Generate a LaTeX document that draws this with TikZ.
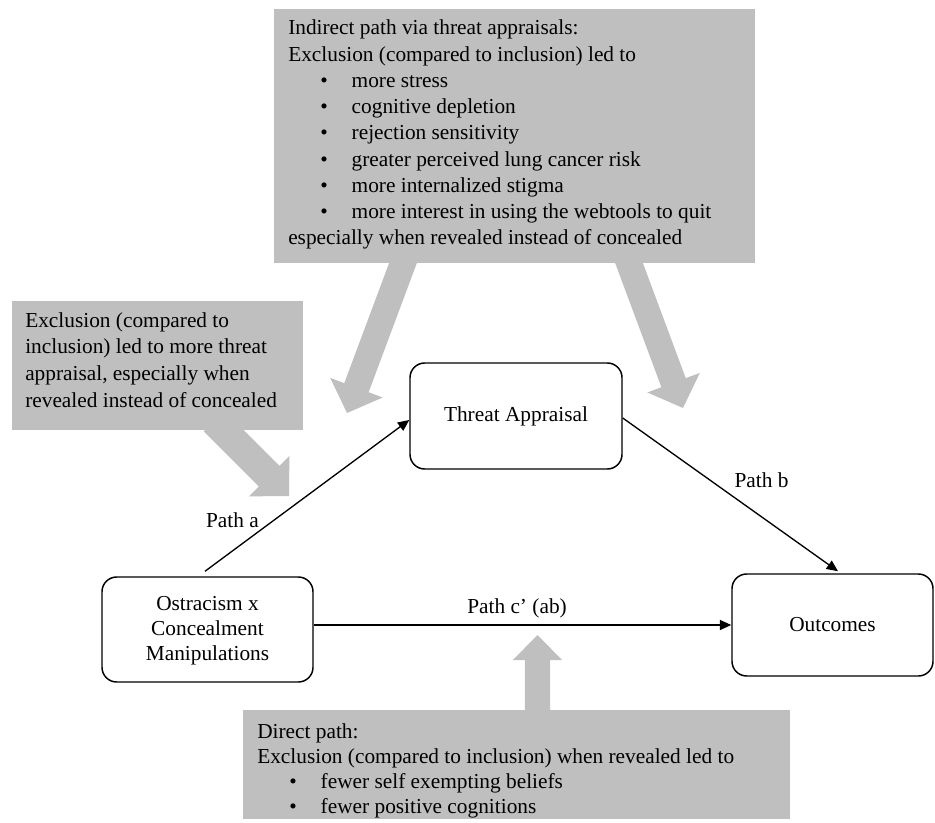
\documentclass[tikz,border=0pt]{standalone}
\usepackage{fontspec}
\setmainfont{Liberation Serif}
\usetikzlibrary{calc,arrows.meta}
\definecolor{callgray}{RGB}{191,191,191}
% block arrow: #1 start coordinate, #2 tip coordinate, #3 half shaft width, #4 half head width, #5 head length
\newcommand\blockarrow[5]{%
  \coordinate (#2b) at ($(#2)!#5!(#1)$);
  \fill[callgray] ($(#1)!#3!90:(#2)$) -- ($(#2b)!#3!90:(#2)$) -- ($(#2b)!#4!90:(#2)$) -- (#2)
    -- ($(#2b)!#4!-90:(#2)$) -- ($(#2b)!#3!-90:(#2)$) -- ($(#1)!#3!-90:(#2)$) -- cycle;}
\newcommand\blt[1]{\hspace*{24pt}\makebox[23.6pt][l]{•}#1}
\begin{document}
\begin{tikzpicture}[x=0.75pt,y=-0.75pt,
  every node/.style={font=\fontsize{16pt}{19.7pt}\selectfont},
  callbox/.style={fill=callgray, draw=none, inner sep=0pt, outer sep=0pt},
  varbox/.style={draw, line width=1.1pt, rounded corners=11pt, inner sep=0pt, align=center, fill=white},
  conn/.style={line width=1pt, -{Triangle[length=8.5pt,width=7.5pt]}},
  lbl/.style={anchor=base, inner sep=0pt},
  txt/.style={anchor=base west, inner sep=0pt, align=left}]
\useasboundingbox (0,0) rectangle (935,823);

% grey callout boxes
\node[callbox, minimum width=360.75pt, minimum height=190.5pt] (topbox) at (514.5,136) {};
\node[callbox, minimum width=218.25pt, minimum height=96.75pt] (leftbox) at (157.5,365.5) {};
\node[callbox, minimum width=410.25pt, minimum height=81.75pt] (botbox) at (516.5,764.5) {};

% block arrows
\coordinate (a1s) at (214,421);   \coordinate (a1t) at (289,496);
\blockarrow{a1s}{a1t}{10.9pt}{21.4pt}{21pt}
\coordinate (a2s) at (406.5,253.6); \coordinate (a2t) at (347,413);
\blockarrow{a2s}{a2t}{9.75pt}{21pt}{20.25pt}
\coordinate (a3s) at (625.5,253.6); \coordinate (a3t) at (683,408);
\blockarrow{a3s}{a3t}{9.75pt}{21pt}{20.25pt}
\coordinate (a4s) at (537.5,720); \coordinate (a4t) at (537.5,635);
\blockarrow{a4s}{a4t}{9.4pt}{18.4pt}{18.75pt}

% callout texts (anchor = baseline of the last line)
\node[txt, font=\fontsize{16pt}{19.7pt}\selectfont] (toptext) at (288,245) {Indirect path via threat appraisals:\\
Exclusion (compared to inclusion) led to\\
\blt{more stress}\\
\blt{cognitive depletion}\\
\blt{rejection sensitivity}\\
\blt{greater perceived lung cancer risk}\\
\blt{more internalized stigma}\\
\blt{more interest in using the webtools to quit}\\
especially when revealed instead of concealed};
\node[txt, font=\fontsize{16pt}{20pt}\selectfont] (lefttext) at (25,407) {Exclusion (compared to\\
inclusion) led to more threat\\
appraisal, especially when\\
revealed instead of concealed};
\node[txt, font=\fontsize{16pt}{18.75pt}\selectfont] (bottext) at (257,813) {Direct path:\\
Exclusion (compared to inclusion) when revealed led to\\
\blt{fewer self exempting beliefs}\\
\blt{fewer positive cognitions}};

% model boxes
\node[varbox, minimum width=159pt, minimum height=79.5pt] (ta) at (516,416) {Threat Appraisal};
\node[varbox, minimum width=158.25pt, minimum height=78.75pt, font=\fontsize{16pt}{18.75pt}\selectfont, text depth=2pt] (ostr) at (207.5,629.5) {Ostracism x\\Concealment\\Manipulations};
\node[varbox, minimum width=150.75pt, minimum height=76.5pt] (outc) at (832.5,625) {Outcomes};

% paths
\draw[conn] ($(ostr.north)+(-2.5,-5)$) -- ($(ta.west)+(0,4)$);
\draw[conn] ($(ta.east)+(0,2)$) -- ($(outc.north)+(5.5,-2)$);
\draw[conn] (ostr.east |- outc.west) -- (outc.west);

\node[lbl] (la) at (232.5,527) {Path a};
\node[lbl] (lb) at (761.5,487) {Path b};
\node[lbl] (lc) at (517,613) {Path c’ (ab)};
\end{tikzpicture}
\end{document}
